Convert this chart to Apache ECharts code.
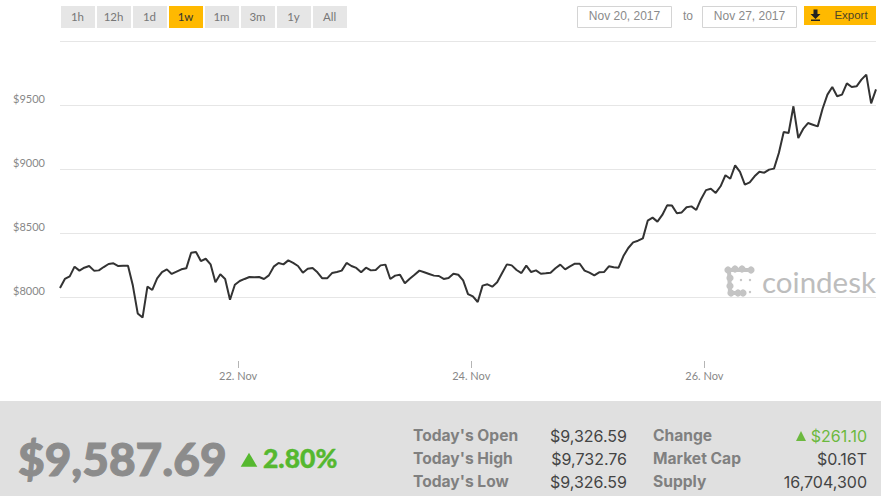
<!DOCTYPE html>
<html>
<head>
<meta charset="utf-8">
<style>html,body{margin:0;padding:0;background:#fff}#c{width:881px;height:496px}</style>
<script src="https://cdn.jsdelivr.net/npm/echarts@6/dist/echarts.min.js"></script>
</head>
<body>
<div id="c"></div>
<script>
const seriesStart = '2017-11-20T11:20:00Z';
const stepHours = 1;
const prices = [
8070,8141,8161,8237,8206,8229,8242,8206,8208,8234,
8258,8263,8242,8245,8245,8089,7872,7839,8081,8055,
8146,8195,8216,8180,8198,8216,8224,8346,8352,8281,
8299,8255,8115,8177,8141,7979,8096,8125,8141,8156,
8154,8156,8141,8169,8237,8266,8255,8286,8266,8242,
8190,8221,8227,8193,8146,8146,8187,8195,8206,8266,
8242,8227,8193,8229,8208,8211,8247,8253,8141,8167,
8174,8107,8143,8174,8206,8193,8180,8167,8164,8141,
8148,8182,8174,8130,8023,8005,7961,8089,8099,8081,
8115,8185,8255,8247,8211,8187,8245,8195,8208,8182,
8185,8190,8224,8253,8216,8240,8260,8260,8206,8190,
8169,8193,8195,8240,8232,8229,8320,8383,8427,8440,
8458,8596,8620,8589,8641,8716,8714,8654,8661,8701,
8708,8680,8766,8835,8846,8813,8865,8951,8924,9029,
8977,8878,8896,8943,8979,8971,8995,9003,9125,9289,
9281,9490,9242,9313,9359,9346,9333,9471,9581,9641,
9568,9581,9669,9641,9646,9698,9737,9513,9622
];
const xTickDates = ['2017-11-22T00:00:00Z','2017-11-24T00:00:00Z','2017-11-26T00:00:00Z'];
const xTickLabels = ['22. Nov','24. Nov','26. Nov'];
const yTicks = [8000,8500,9000,9500];
const rangeButtons = ['1h','12h','1d','1w','1m','3m','1y','All'];
const activeRange = '1w';
const dateFrom = 'Nov 20, 2017';
const dateTo = 'Nov 27, 2017';
const priceNow = '$9,587.69';
const pctChange = '2.80%';
const statLabelsLeft = ["Today's Open","Today's High","Today's Low"];
const statValuesLeft = ['$9,326.59','$9,732.76','$9,326.59'];
const statLabelsRight = ['Change','Market Cap','Supply'];
const statValuesRight = ['$261.10','$0.16T','16,704,300'];

const t0 = Date.parse(seriesStart);
const hour = 3600000;
const points = prices.map((v,i)=>[t0+i*stepHours*hour,v]);
const xTicks = xTickDates.map(d=>Date.parse(d));

const YELLOW='#ffb900', GREEN='#55b82f', FONT='Lato';
const g=[];
function txt(x,y,text,o){g.push({type:'text',silent:true,x:x,y:y,z:o.z||10,style:{text:text,fill:o.fill,stroke:o.bold?o.fill:null,lineWidth:o.bold||0,font:(o.weight||'400')+' '+o.size+'px '+(o.family||FONT),textAlign:o.align||'left',textVerticalAlign:'middle'}})}
function rect(x,y,w,h,fill,stroke,z){g.push({type:'rect',silent:true,z:z||5,shape:{x:x,y:y,width:w,height:h},style:{fill:fill,stroke:stroke||null,lineWidth:stroke?1:0}})}
function poly(p,fill,z){g.push({type:'polygon',silent:true,z:z||10,shape:{points:p},style:{fill:fill}})}

// range buttons
rangeButtons.forEach((b,i)=>{
  const x=61+36*i, on=b===activeRange;
  rect(x,6,34,22,on?YELLOW:'#e6e6e6');
  txt(x+16.5,16.5,b,{fill:on?'#333':'#777',size:11.5,align:'center'});
});
// date range
rect(577.5,6.5,94,21,'#fff','#d4d4d4');
txt(624.5,16,dateFrom,{fill:'#8a8a8a',size:12,align:'center',family:'Liberation Sans'});
txt(688,16,'to',{fill:'#8a8a8a',size:12,align:'center',family:'Liberation Sans'});
rect(702.5,6.5,94,21,'#fff','#d4d4d4');
txt(749.5,16,dateTo,{fill:'#8a8a8a',size:12,align:'center',family:'Liberation Sans'});
rect(804,6,72,19,YELLOW);
poly([[813.5,9.5],[817.5,9.5],[817.5,14],[820.5,14],[815.5,19],[810.5,14],[813.5,14]],'#222');
rect(811,19.5,9,1.5,'#222',null,10);
txt(851,15,'Export',{fill:'#4d4426',size:11.5,align:'center',family:'Liberation Sans'});
// coindesk logo
const LOGO='#c4c4c4';
[[728,270],[735,269],[742,269],[751,270],[730,278],[730,286],[731,293],[738,293],[743,293]].forEach(p=>g.push({type:'circle',silent:true,z:1,shape:{cx:p[0],cy:p[1],r:3.6},style:{fill:LOGO}}));
g.push({type:'polyline',silent:true,z:1,shape:{points:[[751,270],[729,270],[730,293],[743,293]]},style:{stroke:LOGO,lineWidth:4,fill:null}});
[[741,280],[750,280],[750,292]].forEach(p=>g.push({type:'circle',silent:true,z:1,shape:{cx:p[0],cy:p[1],r:1.2},style:{fill:LOGO}}));
txt(762,281,'coindesk',{fill:'#bdbdbd',size:29.5,z:1});
// bottom panel
rect(0,401,881,95,'#e0e0e0',null,2);
txt(18,458,priceNow,{fill:'#8c8c8c',size:46,weight:'900',bold:1});
poly([[249,452.7],[257.3,466.7],[240.7,466.7]],GREEN);
txt(263,458,pctChange,{fill:GREEN,size:26.5,weight:'900',bold:0.4});
const rows=[435.5,458.5,481.5];
rows.forEach((y,i)=>{
  txt(413,y,statLabelsLeft[i],{fill:'#808080',size:15.6,weight:'700',family:'Inter'});
  txt(627,y,statValuesLeft[i],{fill:'#444',size:16,align:'right',family:'Inter'});
  txt(653,y,statLabelsRight[i],{fill:'#808080',size:15.6,weight:'700',family:'Inter'});
  txt(867,y,statValuesRight[i],{fill:i===0?'#6cb93f':'#444',size:16,align:'right',family:'Inter'});
});
poly([[801,431],[806,441],[796,441]],'#6cb93f');

const chart=echarts.init(document.getElementById('c'),null,{renderer:'svg',width:881,height:496});
chart.setOption({
  animation:false,
  backgroundColor:'#fff',
  grid:{left:60,right:5,top:41,height:320,containLabel:false},
  xAxis:{
    type:'value',
    min:t0,
    max:t0+(prices.length-1)*stepHours*hour,
    axisLine:{show:false},
    splitLine:{show:false},
    axisTick:{show:true,length:7,customValues:xTicks,lineStyle:{color:'#b5b5b5',width:1}},
    axisLabel:{customValues:xTicks,margin:9,color:'#888',fontFamily:FONT,fontSize:11,
      formatter:v=>xTickLabels[xTicks.indexOf(v)]||''}
  },
  yAxis:{
    type:'value',
    min:7500,max:10000,interval:500,
    axisLine:{show:false},
    axisTick:{show:false},
    splitLine:{show:true,showMinLine:false,lineStyle:{color:'#e6e6e6',width:1}},
    axisLabel:{margin:15,color:'#888',fontFamily:FONT,fontSize:11,verticalAlign:'bottom',padding:[0,0,1,0],
      formatter:v=>yTicks.includes(v)?'$'+v:''}
  },
  series:[{type:'line',data:points,showSymbol:false,smooth:false,z:5,lineStyle:{color:'#333',width:2},itemStyle:{color:'#333'}}],
  graphic:{elements:g}
});
</script>
</body>
</html>
